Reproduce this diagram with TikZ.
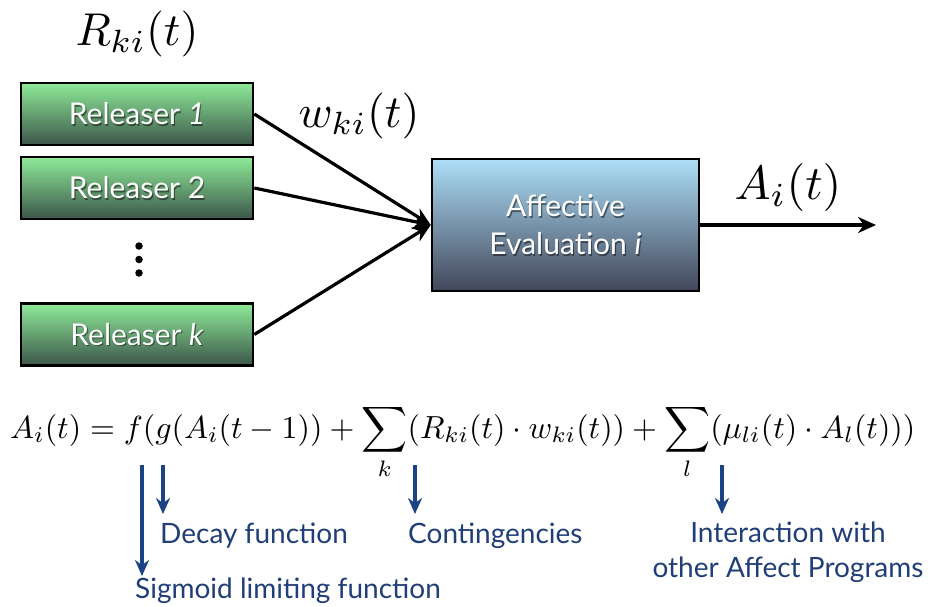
\documentclass[tikz,border=0pt]{standalone}
\usepackage[no-math]{fontspec}
\newfontfamily\lato{Lato}
\usetikzlibrary{arrows.meta}
\definecolor{gtop}{RGB}{142,234,152}
\definecolor{gbot}{RGB}{60,86,74}
\definecolor{btop}{RGB}{172,223,247}
\definecolor{bbot}{RGB}{66,70,90}
\definecolor{navy}{RGB}{32,62,120}
\definecolor{barrow}{RGB}{28,68,132}
\begin{document}
\begin{tikzpicture}[x=1pt,y=-1pt,
  relbox/.style={draw=black,line width=2.6pt,top color=gtop,bottom color=gbot,minimum width=232pt,minimum height=62pt,inner sep=0pt},
  evbox/.style={draw=black,line width=2.6pt,top color=btop,bottom color=bbot,minimum width=267pt,minimum height=132pt,inner sep=0pt},
  boxtxt/.style={text=white,font=\lato\fontsize{30}{38}\selectfont,align=center,inner sep=0pt},
  boxshd/.style={text=black,text opacity=0.45,font=\lato\fontsize{30}{38}\selectfont,align=center,inner sep=0pt},
  mathlab/.style={inner sep=0pt},
  dotmark/.style={circle,fill=black,inner sep=0pt,minimum size=7.5pt},
  arr/.style={line width=3.2pt,-{Stealth[length=18pt,width=16pt]}},
  barr/.style={draw=barrow,line width=3.4pt,-{Stealth[length=16pt,width=14pt]}},
  note/.style={text=navy,font=\lato\fontsize{28}{35}\selectfont,inner sep=0pt,align=center}
]
\useasboundingbox (0,0) rectangle (931,607);
% boxes
\node[relbox] (r1) at (137,114) {};
\node[relbox] (r2) at (137,188) {};
\node[relbox] (rk) at (137,334.5) {};
\node[evbox] (ev) at (565.5,225) {};
% box texts with shadow
\node[boxshd] (r1s) at ([shift={(1.2,1.2)}]r1.center) {Releaser \textit{1}};
\node[boxtxt] (r1t) at (r1.center) {Releaser \textit{1}};
\node[boxshd] (r2s) at ([shift={(1.2,1.2)}]r2.center) {Releaser 2};
\node[boxtxt] (r2t) at (r2.center) {Releaser 2};
\node[boxshd] (rks) at ([shift={(1.2,1.2)}]rk.center) {Releaser \textit{k}};
\node[boxtxt] (rkt) at (rk.center) {Releaser \textit{k}};
\node[boxshd] (evs) at ([shift={(1.2,1.2)}]ev.center) {Affective\\Evaluation \textit{i}};
\node[boxtxt] (evt) at (ev.center) {Affective\\Evaluation \textit{i}};
% dots
\node[dotmark] (d1) at (139,246) {};
\node[dotmark] (d2) at (139,259.5) {};
\node[dotmark] (d3) at (139,273) {};
% labels
\node[mathlab] (Rlab) at (137,34) {\scalebox{4.6}{$R_{ki}(t)$}};
\node[mathlab] (wlab) at (359,116) {\scalebox{4.6}{$w_{ki}(t)$}};
\node[mathlab] (Alab) at (788,187) {\scalebox{4.8}{$A_i(t)$}};
% connectors
\coordinate (out) at (876,225);
\draw[arr] (r1.east) -- (ev.west);
\draw[arr] (r2.east) -- (ev.west);
\draw[arr] (rk.east) -- (ev.west);
\draw[arr] (ev.east) -- (out);
% equation
\node[inner sep=0pt,anchor=base west] (eq) at (10,438) {\resizebox{905pt}{!}{$\displaystyle A_i(t) = f(g(A_i(t-1)) + \sum_k (R_{ki}(t)\cdot w_{ki}(t)) + \sum_l (\mu_{li}(t)\cdot A_l(t)))$}};
% annotation texts
\node[note,anchor=base west] (sig) at (135,598) {Sigmoid limiting function};
\node[note,anchor=base west] (dec) at (160,543) {Decay function};
\node[note,anchor=base west] (con) at (408,543) {Contingencies};
\node[note,anchor=base] (int) at (788,577) {Interaction with\\other Affect Programs};
% annotation arrows
\coordinate (s1) at (142,465);
\coordinate (s2) at (163,465);
\coordinate (s3) at (415,465);
\coordinate (s4) at (722,465);
\draw[barr] (s1) -- (s1 |- 0,576);
\draw[barr] (s2) -- (s2 |- 0,514);
\draw[barr] (s3) -- (s3 |- 0,514);
\draw[barr] (s4) -- (s4 |- 0,514);
\end{tikzpicture}
\end{document}
